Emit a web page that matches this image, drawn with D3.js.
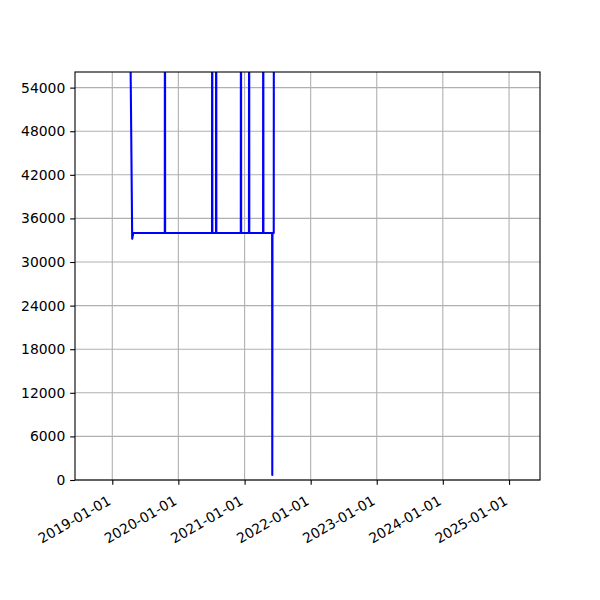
<!DOCTYPE html>
<html>
<head>
<meta charset="utf-8">
<script src="https://cdn.jsdelivr.net/npm/d3@7"></script>
<style>
html, body { margin: 0; padding: 0; background: #fff; }
svg { display: block; }
text { font-family: "DejaVu Sans", sans-serif; font-size: 13.9px; fill: #000; }
</style>
</head>
<body>
<svg id="chart" width="600" height="600"></svg>
<script>
// Data
const dates = [
  "2019-04-11", "2019-04-21", "2019-04-27",
  "2019-10-18", "2019-10-19", "2019-10-20",
  "2020-07-05", "2020-07-06", "2020-07-07",
  "2020-07-27", "2020-07-28", "2020-07-29",
  "2020-12-11", "2020-12-12", "2020-12-13",
  "2021-01-25", "2021-01-26", "2021-01-27",
  "2021-04-13", "2021-04-14", "2021-04-15",
  "2021-06-02", "2021-06-03", "2021-06-04",
  "2021-06-11", "2021-06-12"
];
const values = [
  60000, 33200, 34000,
  34000, 90000, 34000,
  34000, 90000, 34000,
  34000, 90000, 34000,
  34000, 90000, 34000,
  34000, 90000, 34000,
  34000, 90000, 34000,
  34000, 700, 34000,
  34000, 90000
];
const xTickLabels = ["2019-01-01", "2020-01-01", "2021-01-01", "2022-01-01", "2023-01-01", "2024-01-01", "2025-01-01"];
const yTickValues = [0, 6000, 12000, 18000, 24000, 30000, 36000, 42000, 48000, 54000];
const xDomain = ["2018-06-09", "2025-06-21"];
const yDomain = [0, 56150];

const parse = d3.utcParse("%Y-%m-%d");
const data = dates.map((d, i) => ({ date: parse(d), value: values[i] }));

const mLeft = 75, mRight = 540, mTop = 72, mBottom = 480;
const svg = d3.select("#chart");

const x = d3.scaleUtc().domain(xDomain.map(parse)).range([mLeft, mRight]);
const y = d3.scaleLinear().domain(yDomain).range([mBottom, mTop]);

const xTicks = xTickLabels.map(parse);

// grid
const grid = svg.append("g");
grid.selectAll("line.gx").data(xTicks).join("line").attr("class", "gx")
  .attr("x1", d => x(d)).attr("x2", d => x(d))
  .attr("y1", mTop).attr("y2", mBottom)
  .attr("stroke", "#b0b0b0").attr("stroke-width", 1.1);
grid.selectAll("line.gy").data(yTickValues).join("line").attr("class", "gy")
  .attr("x1", mLeft).attr("x2", mRight)
  .attr("y1", d => y(d)).attr("y2", d => y(d))
  .attr("stroke", "#b0b0b0").attr("stroke-width", 1.1);

// clip
svg.append("clipPath").attr("id", "clip")
  .append("rect").attr("x", mLeft).attr("y", mTop)
  .attr("width", mRight - mLeft).attr("height", mBottom - mTop);

const line = d3.line().x(d => x(d.date)).y(d => y(d.value));
svg.append("path")
  .datum(data)
  .attr("clip-path", "url(#clip)")
  .attr("fill", "none")
  .attr("stroke", "#0000ff")
  .attr("stroke-width", 2.08)
  .attr("stroke-linejoin", "round")
  .attr("stroke-linecap", "square")
  .attr("d", line);

// axes
const xAxis = d3.axisBottom(x).tickValues(xTicks).tickSizeInner(4.86).tickSizeOuter(0)
  .tickPadding(4.86).tickFormat(d3.utcFormat("%Y-%m-%d"));
const gx = svg.append("g").attr("transform", `translate(0,${mBottom})`).call(xAxis);
gx.select(".domain").remove();
gx.selectAll(".tick line").attr("stroke", "#000").attr("stroke-width", 1.1);
gx.selectAll(".tick text")
  .attr("font-family", "DejaVu Sans").attr("font-size", 13.9)
  .attr("text-anchor", "end")
  .attr("y", null).attr("dy", null)
  .attr("transform", "translate(-1,23.5) rotate(-30)");

const yAxis = d3.axisLeft(y).tickValues(yTickValues).tickSizeInner(4.86).tickSizeOuter(0)
  .tickPadding(4.86).tickFormat(d3.format("d"));
const gy = svg.append("g").attr("transform", `translate(${mLeft},0)`).call(yAxis);
gy.select(".domain").remove();
gy.selectAll(".tick line").attr("stroke", "#000").attr("stroke-width", 1.1);
gy.selectAll(".tick text").attr("font-family", "DejaVu Sans").attr("font-size", 13.9);

// spines
svg.append("rect").attr("x", mLeft).attr("y", mTop)
  .attr("width", mRight - mLeft).attr("height", mBottom - mTop)
  .attr("fill", "none").attr("stroke", "#000").attr("stroke-width", 1.1);
</script>
</body>
</html>
